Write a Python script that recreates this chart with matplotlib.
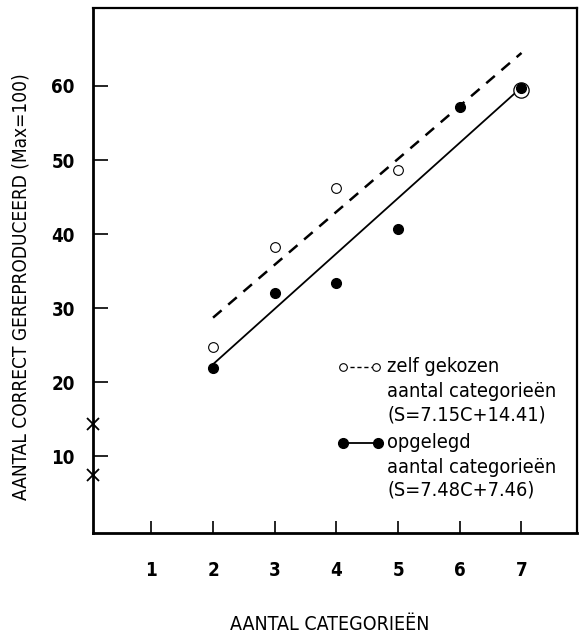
import matplotlib
matplotlib.use("Agg")
import matplotlib.pyplot as plt
from matplotlib.lines import Line2D
from matplotlib import font_manager as fm

# Data
open_x = [2, 3, 4, 5, 7]
open_y = [24.7, 38.2, 46.2, 48.6, 59.5]
filled_x = [2, 3, 4, 5, 6, 7]
filled_y = [21.9, 32.1, 33.4, 40.7, 57.1, 59.7]
# regression lines  S = a*C + b
fit_open = (7.15, 14.41)
fit_filled = (7.48, 7.46)
fit_range = [2, 7]
x_ticks = [1, 2, 3, 4, 5, 6, 7]
y_ticks = [10, 20, 30, 40, 50, 60]
legend_lines = ["zelf gekozen", "aantal categorieën", "(S=7.15C+14.41)",
                "opgelegd", "aantal categorieën", "(S=7.48C+7.46)"]


def font(name, size):
    paths = [p for p in fm.findSystemFonts() if p.split("/")[-1] == name]
    if paths:
        return fm.FontProperties(fname=paths[0], size=size)
    return fm.FontProperties(family="DejaVu Sans", size=size)


f_tick = font("DejaVuSansCondensed-Bold.ttf", 13.5)
f_ylab = font("DejaVuSansCondensed.ttf", 13.7)
f_xlab = font("DejaVuSansCondensed.ttf", 14)
f_leg = font("DejaVuSansCondensed.ttf", 14.3)

fig = plt.figure(figsize=(5.87, 6.34), dpi=100)
ax = fig.add_axes([0.158, 0.159, 0.825, 0.828])
ax.set_xlim(0.05, 7.9)
ax.set_ylim(-0.4, 70.5)

# regression lines
xs = fit_range
ax.plot(xs, [fit_open[0] * x + fit_open[1] for x in xs], color="black",
        lw=1.8, ls=(0, (4.5, 3.5)), zorder=2)
ax.plot(xs, [fit_filled[0] * x + fit_filled[1] for x in xs], color="black",
        lw=1.3, ls="-", zorder=2)

# open points (last point coincides with filled one -> ring)
ax.plot(open_x[:-1], open_y[:-1], ls="none", marker="o", ms=7,
        mfc="white", mec="black", mew=0.8, zorder=3)
ax.plot(open_x[-1:], open_y[-1:], ls="none", marker="o", ms=11,
        mfc="white", mec="black", mew=0.9, zorder=3)
ax.plot(filled_x, filled_y, ls="none", marker="o", ms=7,
        mfc="black", mec="black", zorder=4)

# intercepts marked on the y axis
ax.plot([0.05, 0.05], [fit_open[1], fit_filled[1]], ls="none", marker="x",
        ms=8, mew=1.3, color="black", clip_on=False, zorder=5)

# ticks
ax.set_xticks(x_ticks)
ax.set_yticks(y_ticks)
ax.set_xticklabels([str(v) for v in x_ticks], fontproperties=f_tick)
ax.set_yticklabels([str(v) for v in y_ticks], fontproperties=f_tick)
ax.tick_params(axis="y", direction="in", length=11, width=1.2, pad=13)
ax.tick_params(axis="x", direction="in", length=9, width=1.2, pad=20)

for side in ["left", "bottom"]:
    ax.spines[side].set_linewidth(2.0)
for side in ["top", "right"]:
    ax.spines[side].set_linewidth(1.6)

ax.set_ylabel("AANTAL CORRECT GEREPRODUCEERD (Max=100)", fontproperties=f_ylab)
ax.yaxis.set_label_coords(-0.128, 0.47)
ax.set_xlabel("AANTAL CATEGORIEËN", fontproperties=f_xlab)
ax.xaxis.set_label_coords(0.49, -0.156)

# manual legend
tx = 0.608
ys = [0.317, 0.270, 0.226, 0.172, 0.126, 0.082]
for y, t in zip(ys, legend_lines):
    ax.text(tx, y, t, transform=ax.transAxes, va="center", ha="left",
            fontproperties=f_leg)
ax.add_line(Line2D([0.517, 0.584], [ys[0], ys[0]], transform=ax.transAxes,
                   color="black", lw=1.0, ls=(0, (3, 2)), marker="o", ms=5.5,
                   mfc="white", mec="black", mew=0.8))
ax.add_line(Line2D([0.517, 0.590], [ys[3], ys[3]], transform=ax.transAxes,
                   color="black", lw=1.3, marker="o", ms=7,
                   mfc="black", mec="black"))

fig.savefig("out.png", dpi=100)
